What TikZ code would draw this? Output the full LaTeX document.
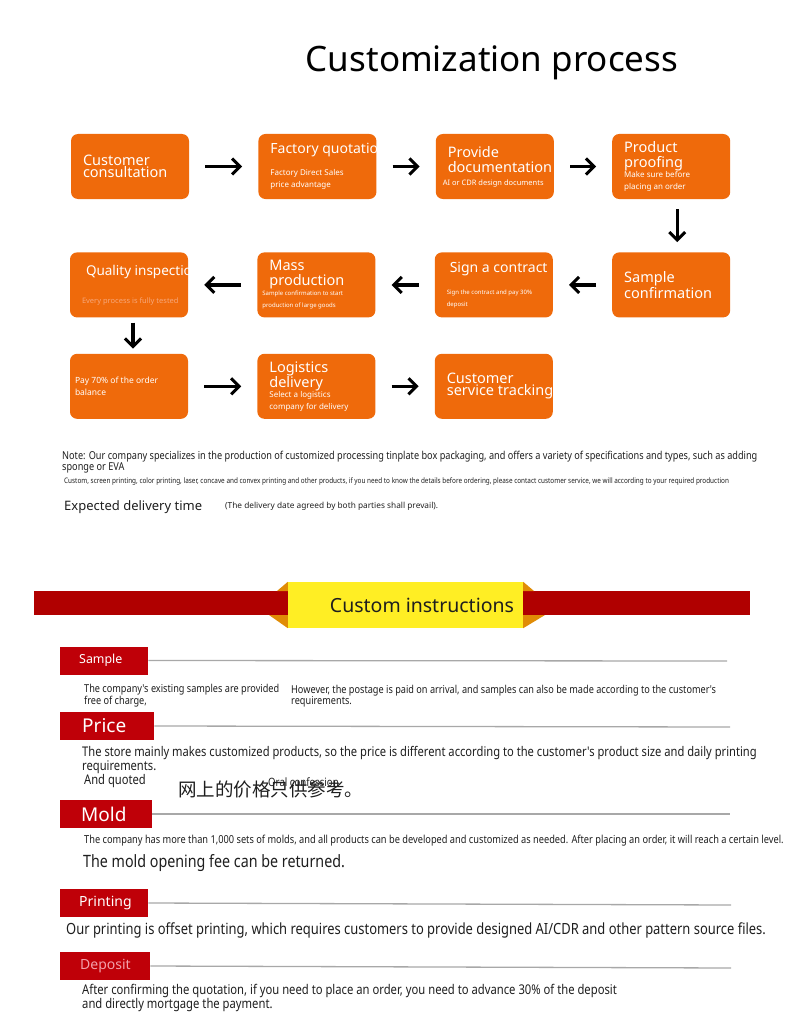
\documentclass[tikz,border=0pt]{standalone}
\usepackage{fontspec}
\setmainfont{Noto Sans}
\newfontfamily\condfont[FakeStretch=0.84]{Noto Sans}
\newfontfamily\cjk{Noto Sans CJK SC}
\usetikzlibrary{arrows.meta,positioning}
\definecolor{boxorange}{HTML}{EF6A0B}
\definecolor{fadedtext}{HTML}{F7A77A}
\definecolor{bannerred}{HTML}{B00000}
\definecolor{banneryellow}{HTML}{FFEE24}
\definecolor{bannerorange}{HTML}{E08C06}
\definecolor{tagred}{HTML}{BF0008}
\definecolor{tagpink}{HTML}{F2A0AA}
\definecolor{rulegray}{HTML}{A8A8A8}
\definecolor{notegray}{HTML}{1E1E1E}
\newcommand{\setfs}[2]{\fontsize{#1}{#2}\selectfont}
\newcommand{\boxhead}{\setfs{14.5}{15}}
\newcommand{\boxsub}{\setfs{8}{10}}
\newcommand{\boxtiny}{\setfs{6}{10}}

\begin{document}
\begin{tikzpicture}[x=1pt,y=-1pt,
  node distance=53pt and 69pt,
  stepbox/.style={fill=boxorange,rounded corners=7pt,minimum width=118pt,minimum height=65pt,
    text width=94pt,inner xsep=12pt,inner ysep=0pt,align=flush left,text=white},
  arr/.style={-{Straight Barb[length=8pt,width=16pt,line width=3pt]},line width=3.2pt,shorten >=16pt,shorten <=16pt},
  darr/.style={arr,shorten >=10pt,shorten <=10pt},
  note/.style={anchor=west,inner sep=0pt,align=left,text=notegray},
  tag/.style={anchor=west,fill=tagred,minimum width=88pt,minimum height=28pt,text width=50pt,
    inner xsep=19pt,inner ysep=0pt,align=flush left,text=white},
  rule/.style={draw=rulegray,line width=1.3pt}
]
\useasboundingbox (0,0) rectangle (790,1014);

\node[font=\setfs{35}{35}] (title) at (492,63) {Customization process};

% process boxes
\node[stepbox] (b1) at (130,166.5) {\boxhead Customer\\consultation};
\node[stepbox,right=69pt of b1] (b2) {\setfs{14}{14}\mbox{Factory quotation}\par\vspace{12pt}\boxsub Factory Direct Sales\\price advantage};
\node[stepbox,right=59pt of b2] (b3) {\boxhead Provide\\\mbox{documentation}\par\vspace{1pt}\setfs{7.5}{9}\hspace*{-5pt}\mbox{AI or CDR design documents}};
\node[stepbox,right=58pt of b3] (b4) {\boxhead Product\\proofing\par\boxsub Make sure before\\placing an order};
\node[stepbox,below=53pt of b4] (b8) {\boxhead Sample\\confirmation};
\node[stepbox,left=59pt of b8] (b7) {\setfs{14}{14}\hspace*{3pt}\mbox{Sign a contract}\par\vspace{12pt}\boxtiny\mbox{Sign the contract and pay 30\%}\\deposit};
\node[stepbox,left=59pt of b7] (b6) {\boxhead Mass\\production\par\boxtiny\hspace*{-7pt}\mbox{Sample confirmation to start}\\\hspace*{-7pt}\mbox{production of large goods}};
\node[stepbox,left=69pt of b6] (b5) {\setfs{13.5}{14}\hspace*{4pt}\mbox{Quality inspection}\par\vspace{16pt}\setfs{7.5}{9}\color{fadedtext}\mbox{Every process is fully tested}};
\node[stepbox,below=36pt of b5] (b9) {\setfs{8.5}{10}\hspace*{-7pt}Pay 70\% of the order\\\hspace*{-7pt}balance};
\node[stepbox,right=69pt of b9] (b10) {\boxhead Logistics\\delivery\par\boxsub Select a logistics\\\mbox{company for delivery}};
\node[stepbox,right=59pt of b10] (b11) {\boxhead Customer\\\mbox{service tracking}};

\draw[arr] (b1) -- (b2);
\draw[arr] (b2) -- (b3);
\draw[arr] (b3) -- (b4);
\draw[darr] ([xshift=6pt]b4.south) -- ([xshift=6pt]b8.north);
\draw[arr] (b8) -- (b7);
\draw[arr] (b7) -- (b6);
\draw[arr] (b6) -- (b5);
\draw[darr,shorten >=5pt,shorten <=5pt] ([xshift=4pt]b5.south) -- ([xshift=4pt]b9.north);
\draw[arr] (b9) -- (b10);
\draw[arr] (b10) -- (b11);

% notes
\node[note,font=\condfont\setfs{10.9}{10.5}] (note) at (62,462) {Note: Our company specializes in the production of customized processing tinplate box packaging, and offers a variety of specifications and types, such as adding\\sponge or EVA};
\node[note,font=\condfont\setfs{7.6}{8}] (custom) at (64,481) {Custom, screen printing, color printing, laser, concave and convex printing and other products, if you need to know the details before ordering, please contact customer service, we will according to your required production};
\node[note,font=\setfs{13}{13}] (delivery) at (64,507) {Expected delivery time};
\node[note,font=\setfs{8.3}{8.5}] (prevail) at (225,506) {(The delivery date agreed by both parties shall prevail).};

% banner
\fill[bannerred] (34,591) rectangle (750,615);
\node[fill=banneryellow,minimum width=235pt,minimum height=46pt,text width=217pt,inner xsep=9pt,
  align=flush right,font=\setfs{19.5}{19.5},text=notegray] (banner) at (405.5,605) {Custom instructions};
\fill[bannerorange] (banner.north west) -- (277,591) -- (banner.west |- 0,591) -- cycle;
\fill[bannerorange] (banner.south west) -- (269,615) -- (banner.west |- 0,615) -- cycle;
\fill[bannerorange] (banner.north east) -- (534,591) -- (banner.east |- 0,591) -- cycle;
\fill[bannerorange] (banner.south east) -- (545,615) -- (banner.east |- 0,615) -- cycle;

% sample
\node[tag,font=\setfs{12.4}{13},inner xsep=18pt] (sample) at (60,660.5) {Sample};
\coordinate (sampleend) at (727,661);
\draw[rule] (sample.east) -- (sampleend);
\node[note,font=\condfont\setfs{10.9}{10}] (samplefree) at (84,696) {The company's existing samples are provided\\free of charge,};
\node[note,font=\condfont\setfs{10.9}{10}] (samplepost) at (291,696) {However, the postage is paid on arrival, and samples can also be made according to the customer's\\requirements.};

% price
\node[tag,font=\setfs{19}{19},inner xsep=22pt] (price) at (60,726) {Price};
\coordinate (priceend) at (730,727);
\draw[rule] (price.east) -- (priceend);
\node[note,font=\condfont\setfs{13.3}{12.5}] (pricetext) at (82,760) {The store mainly makes customized products, so the price is different according to the customer's product size and daily printing\\requirements.};
\node[note,font=\cjk\setfs{18.5}{18.5}] (chinese) at (178,789) {网上的价格只供参考。};
\node[note,font=\condfont\setfs{13.3}{13.3}] (quoted) at (84,781) {And quoted};
\node[note,font=\condfont\setfs{11.5}{11.5}] (oral) at (268,782) {Oral confession};

% mold
\node[tag,font=\setfs{19}{19},inner xsep=21pt] (mold) at (60,814) {Mold};
\coordinate (moldend) at (730,814);
\draw[rule] (mold.east) -- (moldend);
\node[note,font=\condfont\setfs{11}{11}] (moldtext) at (84,841) {The company has more than 1,000 sets of molds, and all products can be developed and customized as needed. After placing an order, it will reach a certain level.};
\node[note,font=\condfont\setfs{17}{17}] (refund) at (83,863) {The mold opening fee can be returned.};

% printing
\node[tag,font=\setfs{14}{14},inner xsep=18pt] (printing) at (60,903) {Printing};
\coordinate (printingend) at (731,905);
\draw[rule] (printing.east) -- (printingend);
\node[note,font=\condfont\setfs{15.4}{15.4}] (offset) at (66,930) {Our printing is offset printing, which requires customers to provide designed AI/CDR and other pattern source files.};

% deposit
\node[tag,font=\setfs{14}{14},inner xsep=20pt,text=tagpink] (deposit) at (60,966) {Deposit};
\coordinate (depositend) at (731,968);
\draw[rule] (deposit.east) -- (depositend);
\node[note,font=\condfont\setfs{13.4}{10.5}] (advance) at (82,998) {After confirming the quotation, if you need to place an order, you need to advance 30\% of the deposit\\and directly mortgage the payment.};
\end{tikzpicture}
\end{document}
